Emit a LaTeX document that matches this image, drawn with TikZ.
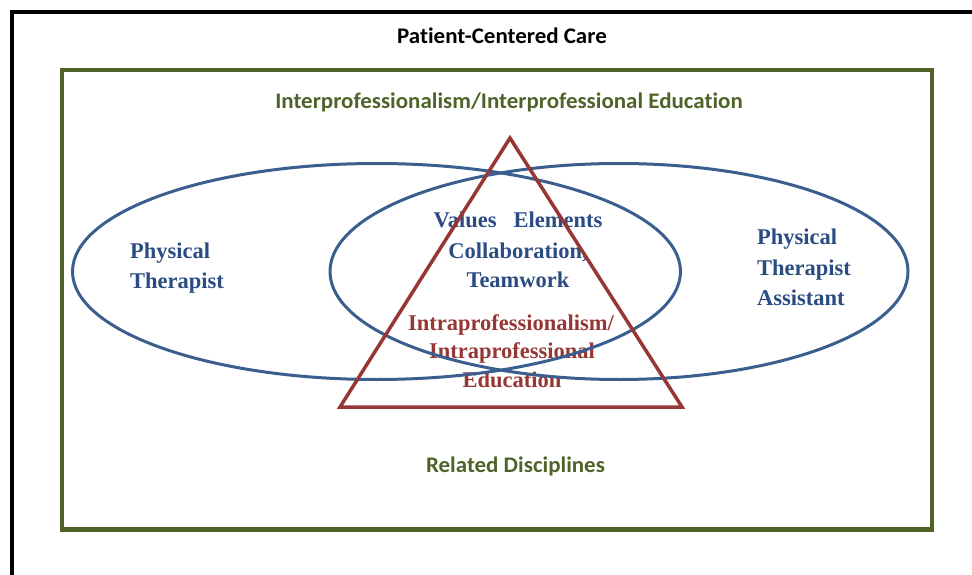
\documentclass[tikz,border=0pt]{standalone}
\usepackage{fontspec}
\setmainfont{Liberation Serif}
\newfontfamily\calib[Ligatures=NoCommon,FakeStretch=1.03]{Carlito}
\definecolor{frameolive}{HTML}{4F6228}
\definecolor{ellblue}{HTML}{3A5F8F}
\definecolor{txtblue}{HTML}{2A4C82}
\definecolor{trired}{HTML}{953735}
\begin{document}
\begin{tikzpicture}[x=1pt,y=-1pt,
  sanslbl/.style={inner sep=0pt, font=\calib\bfseries\fontsize{22.3}{26}\selectfont},
  serlbl/.style={inner sep=0pt, font=\bfseries\fontsize{22.5}{28}\selectfont},
  bluelbl/.style={serlbl, text=txtblue},
  redlbl/.style={serlbl, text=trired},
  ell/.style={draw=ellblue, line width=3pt},
  tri/.style={draw=trired, line width=3.5pt, line join=miter},
  outerframe/.style={draw=black, line width=4pt},
  innerframe/.style={draw=frameolive, line width=4.5pt}]
\useasboundingbox (0,0) rectangle (972,575);
\clip (0,0) rectangle (972,575);
\draw[outerframe] (11.5,12.5) rectangle (1000,600);
\draw[innerframe] (62,70) rectangle (932,529.5);

% labels
\node[sanslbl, anchor=base] (pcc) at (502,44) {Patient-Centered Care};
\node[sanslbl, anchor=base, text=frameolive] (ipe) at (509,109) {Interprofessionalism/Interprofessional Education};
\node[sanslbl, anchor=base, text=frameolive] (rd) at (515.5,472) {Related Disciplines};

\node[bluelbl, anchor=base west] (pt1) at (130,258) {Physical};
\node[bluelbl, anchor=base west] (pt2) at (130,288) {Therapist};

\node[bluelbl, anchor=base west] (pta1) at (757,244) {Physical};
\node[bluelbl, anchor=base west] (pta2) at (757,275) {Therapist};
\node[bluelbl, anchor=base west] (pta3) at (757,305) {Assistant};

\node[bluelbl, anchor=base] (ve) at (518,227) {Values\ \ \ Elements};
\node[bluelbl, anchor=base] (col) at (518,258) {Collaboration,};
\node[bluelbl, anchor=base] (tw) at (518,287) {Teamwork};

\node[redlbl, anchor=base] (ip1) at (511,330) {Intraprofessionalism/};
\node[redlbl, anchor=base] (ip2) at (512,358) {Intraprofessional};
\node[redlbl, anchor=base] (ip3) at (512,387) {Education};

% shapes
\draw[ell] (376.5,271.5) ellipse [x radius=304, y radius=108];
\draw[ell] (619,271.5) ellipse [x radius=289, y radius=108];
\draw[tri] (510,138) -- (340,407) -- (682,407) -- cycle;
\end{tikzpicture}
\end{document}
